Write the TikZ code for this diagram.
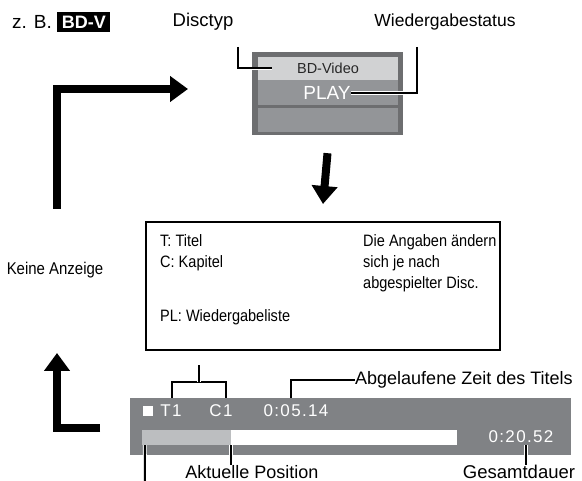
\documentclass[tikz,border=0pt]{standalone}
\usepackage{fontspec}
\setmainfont{Liberation Sans}
\newfontfamily\narrowfont{Liberation Sans}[FakeStretch=0.88]
\usetikzlibrary{arrows.meta,positioning,calc}
\definecolor{dispdark}{RGB}{109,110,112}
\definecolor{displight}{RGB}{209,210,211}
\definecolor{dispmid}{RGB}{147,149,152}
\definecolor{bargray}{RGB}{128,130,133}
\definecolor{barlight}{RGB}{188,190,192}

\begin{document}
\begin{tikzpicture}[x=1pt, y=-1pt,
    lbl/.style={inner sep=0pt, font=\fontsize{18}{21}\selectfont},
    biglbl/.style={inner sep=0pt, font=\fontsize{18}{21}\selectfont},
    boxtext/.style={inner sep=0pt, anchor=west, align=left, font=\narrowfont\fontsize{16.5}{21}\selectfont},
    bartext/.style={inner sep=0pt, text=white, font=\fontsize{17}{20}\selectfont\addfontfeature{LetterSpace=8}},
    row/.style={rectangle, minimum width=140pt, inner sep=0pt},
    lead/.style={line width=2pt, preaction={draw=white, line width=3.8pt}},
    bigarrow/.style={-{Triangle[length=18pt,width=25pt]}, line width=8pt}
]
    \useasboundingbox (0,0) rectangle (582,481);

    % Kopfzeile
    \node[lbl, font=\fontsize{19}{21}\selectfont] (zb) at (32,22) {z. B.};
    \node[fill=black, text=white, inner xsep=4.5pt, inner ysep=4pt, font=\fontsize{18}{20}\selectfont\bfseries, right=5pt of zb] (badge) {BD-V};
    \node[lbl, font=\fontsize{18.5}{21}\selectfont] (typlbl) at (203,22) {Disctyp};
    \node[lbl, font=\fontsize{17.5}{21}\selectfont] (statlbl) at (445,22) {Wiedergabestatus};

    % Anzeige oben
    \node[fill=dispdark, minimum width=151pt, minimum height=83pt, inner sep=0pt] (disp) at (327.5,93.5) {};
    \node[row, fill=displight, minimum height=23pt, text=black!85, font=\fontsize{14.5}{16}\selectfont] (rowtype) at (328,68.5) {BD-Video};
    \node[row, fill=dispmid, minimum height=25pt] (rowstat) at (328,92.5) {};
    \node[row, fill=dispmid, minimum height=24pt] (rowblank) at (328,120) {};
    \node[inner sep=0pt, text=white, font=\fontsize{19}{20}\selectfont] (play) at (327,93) {PLAY};

    \coordinate (typtop) at (238,47);
    \coordinate (stattop) at (417,47);
    \draw[lead] (typtop) |- ([xshift=14pt]rowtype.west);
    \draw[lead] (stattop) |- (play.east);

    % Info
    \node[draw, line width=2pt, minimum width=354pt, minimum height=128pt, inner sep=0pt] (info) at (323,286) {};
    \node[boxtext] (tc) at (160,252.5) {T: Titel\\C: Kapitel};
    \node[boxtext] (pl) at (160,317) {PL: Wiedergabeliste};
    \node[boxtext] (note) at (363,263) {Die Angaben ändern\\sich je nach\\abgespielter Disc.};
    \node[inner sep=0pt, font=\narrowfont\fontsize{17}{20}\selectfont] (none) at (55,270) {Keine Anzeige};

    \draw[bigarrow] ([yshift=-18pt]disp.south) -- ([yshift=17pt]info.north);

    \coordinate (loopstart) at (57,209);
    \coordinate (loopend) at (188,89);
    \draw[bigarrow] (loopstart) |- (loopend);

    \coordinate (backstart) at (100,428);
    \coordinate (backend) at (57,353);
    \draw[bigarrow] (backstart) -| (backend);

    % Anzeige unten
    \node[fill=bargray, minimum width=441pt, minimum height=57pt, inner sep=0pt] (bar) at (350,426.5) {};
    \node[fill=white, minimum size=10pt, inner sep=0pt] (stopsq) at (148,411.5) {};
    \node[bartext] (tone) at (171,411) {T1};
    \node[bartext] (cone) at (221,411) {C1};
    \node[bartext] (elapsed) at (296,411) {0:05.14};
    \node[fill=white, minimum width=315pt, minimum height=15pt, inner sep=0pt] (prog) at (299.5,437.5) {};
    \node[fill=barlight, minimum width=89pt, minimum height=15pt, inner sep=0pt] (progdone) at (186.5,437.5) {};
    \node[bartext] (total) at (521,437) {0:20.52};

    \node[biglbl, anchor=west] (elapsedlbl) at (355,380) {Abgelaufene Zeit des Titels};
    \node[biglbl] (poslbl) at (252,472) {Aktuelle Position};
    \node[biglbl, font=\fontsize{18.5}{21}\selectfont] (totallbl) at (519,472) {Gesamtdauer};

    \coordinate (brk) at (199,382);
    \coordinate (cutoff) at (145,481);
    \draw[lead] ([xshift=1pt]tone.center |- bar.north) |- (brk) -| ([xshift=5pt]cone.center |- bar.north);
    \draw[lead] (brk) -- ++(0,-17);
    \draw[lead] (elapsedlbl.west) -| ([xshift=-5pt]elapsed.center |- bar.north);
    \draw[lead] (progdone.south east) -- (progdone.south east |- poslbl.north);
    \draw[lead] ([xshift=5pt]total.center |- prog.south) -- ([xshift=5pt]total.center |- totallbl.north);
    \draw[lead] ([xshift=3pt]progdone.south west) -- (cutoff);
\end{tikzpicture}
\end{document}
